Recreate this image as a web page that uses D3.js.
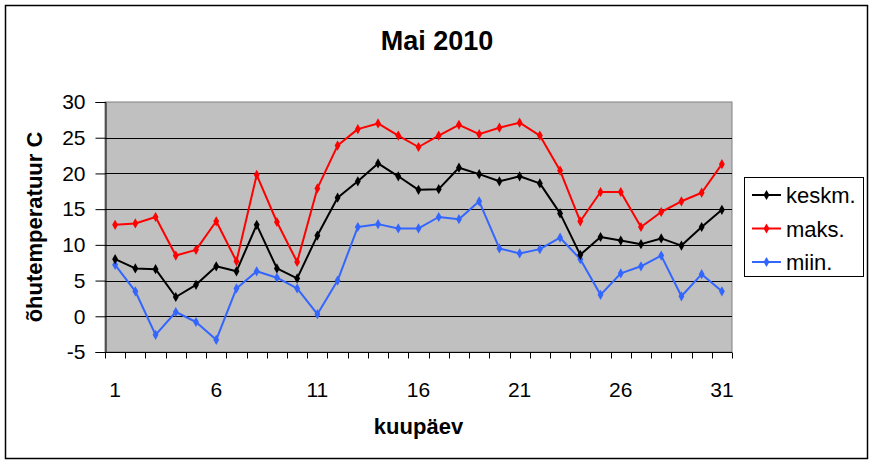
<!DOCTYPE html>
<html>
<head>
<meta charset="utf-8">
<script src="https://cdn.jsdelivr.net/npm/d3@7"></script>
<style>
  body { margin: 0; background: #fff; }
  svg text { font-family: Arial, "Liberation Sans", sans-serif; }
</style>
</head>
<body>
<div class="chart"></div>
<script>
// data
const days = d3.range(1, 32);
const keskm = [8.0, 6.7, 6.6, 2.7, 4.4, 7.0, 6.3, 12.8, 6.7, 5.3, 11.3, 16.6, 18.9, 21.4, 19.6, 17.7, 17.8, 20.8, 19.9, 18.9, 19.6, 18.6, 14.4, 8.6, 11.1, 10.6, 10.1, 10.9, 9.9, 12.5, 14.9];
const maks = [12.8, 13.0, 13.9, 8.5, 9.3, 13.3, 7.7, 19.8, 13.2, 7.6, 17.9, 23.9, 26.2, 27.0, 25.3, 23.7, 25.3, 26.8, 25.5, 26.4, 27.1, 25.3, 20.4, 13.3, 17.4, 17.4, 12.5, 14.6, 16.1, 17.3, 21.3];
const miin = [7.2, 3.5, -2.6, 0.6, -0.8, -3.3, 3.9, 6.3, 5.4, 3.9, 0.3, 5.0, 12.5, 12.9, 12.3, 12.3, 13.9, 13.6, 16.1, 9.5, 8.8, 9.4, 11.0, 8.0, 3.0, 6.0, 7.0, 8.5, 2.8, 5.9, 3.5];
const xTickLabels = [1, 6, 11, 16, 21, 26, 31];
const yTicks = [-5, 0, 5, 10, 15, 20, 25, 30];
const seriesNames = ["keskm.", "maks.", "miin."];
const seriesColors = ["#000000", "#ff0000", "#3366ff"];

const W = 873, H = 464;
const plot = {left: 105, right: 732, top: 102, bottom: 352};

let svg = d3.select(".chart")
  .append("svg")
  .attr("width", W)
  .attr("height", H);

// outer frame
svg.append("rect")
  .attr("x", 5.5).attr("y", 5.5)
  .attr("width", 862).attr("height", 453)
  .attr("fill", "#fff")
  .attr("stroke", "#000")
  .attr("stroke-width", 1.5);

// scales
let x = d3.scaleBand()
  .domain(days)
  .range([plot.left, plot.right]);
let y = d3.scaleLinear()
  .domain([-5, 30])
  .range([plot.bottom, plot.top]);

// plot background
svg.append("rect")
  .attr("x", plot.left).attr("y", plot.top)
  .attr("width", plot.right - plot.left)
  .attr("height", plot.bottom - plot.top)
  .attr("fill", "#c0c0c0")
  .attr("stroke", "#808080")
  .attr("stroke-width", 1);

// gridlines
svg.append("g")
  .selectAll("line")
  .data(yTicks.filter(d => d > -5 && d < 30))
  .join("line")
  .attr("x1", plot.left).attr("x2", plot.right)
  .attr("y1", d => Math.round(y(d)) + 0.5)
  .attr("y2", d => Math.round(y(d)) + 0.5)
  .attr("stroke", "#000")
  .attr("stroke-width", 1);

// y axis
let yAxis = svg.append("g")
  .attr("transform", "translate(" + (plot.left + 0.5) + ",0)")
  .call(d3.axisLeft(y).tickValues(yTicks).tickSize(10).tickPadding(10)
    .tickFormat(d => String(d)));
yAxis.select(".domain").attr("stroke", "#000");
yAxis.selectAll(".tick line").attr("stroke", "#000");
yAxis.selectAll("text")
  .attr("font-size", 21)
  .attr("fill", "#000")
  .style("font-family", "Arial, 'Liberation Sans', sans-serif");

// x axis: ticks between categories
let xAxis = svg.append("g")
  .attr("transform", "translate(0," + (plot.bottom + 0.5) + ")");
xAxis.append("line")
  .attr("x1", plot.left).attr("x2", plot.right)
  .attr("stroke", "#000");
xAxis.selectAll(".tk")
  .data(days.concat([32]))
  .join("line")
  .attr("class", "tk")
  .attr("x1", d => Math.round(d <= 31 ? x(d) : x(31) + x.bandwidth()) + 0.5)
  .attr("x2", d => Math.round(d <= 31 ? x(d) : x(31) + x.bandwidth()) + 0.5)
  .attr("y1", 0).attr("y2", 6)
  .attr("stroke", "#000");
xAxis.selectAll(".lbl")
  .data(xTickLabels)
  .join("text")
  .attr("class", "lbl")
  .attr("x", d => x(d) + x.bandwidth() / 2)
  .attr("y", 44)
  .attr("text-anchor", "middle")
  .attr("font-size", 21)
  .text(d => d);

// lines + markers
let allSeries = [keskm, maks, miin];
let line = d3.line()
  .x((d, i) => x(days[i]) + x.bandwidth() / 2)
  .y(d => y(d));
let diamond = d3.symbol().type(d3.symbolDiamond).size(30);

[2, 1, 0].forEach(k => {
  let g = svg.append("g");
  g.append("path")
    .datum(allSeries[k])
    .attr("fill", "none")
    .attr("stroke", seriesColors[k])
    .attr("stroke-width", 2)
    .attr("stroke-linejoin", "round")
    .attr("d", line);
  g.selectAll("path.m")
    .data(allSeries[k])
    .join("path")
    .attr("class", "m")
    .attr("transform", (d, i) => "translate(" + (x(days[i]) + x.bandwidth() / 2) + "," + y(d) + ")")
    .attr("d", diamond)
    .attr("fill", seriesColors[k]);
});

// title
svg.append("text")
  .attr("x", 437).attr("y", 50)
  .attr("text-anchor", "middle")
  .attr("font-size", 27)
  .attr("font-weight", "bold")
  .text("Mai 2010");

// axis titles
svg.append("text")
  .attr("transform", "translate(42," + ((plot.top + plot.bottom) / 2) + ") rotate(-90)")
  .attr("text-anchor", "middle")
  .attr("font-size", 22)
  .attr("font-weight", "bold")
  .text("õhutemperatuur C");
svg.append("text")
  .attr("x", (plot.left + plot.right) / 2).attr("y", 434)
  .attr("text-anchor", "middle")
  .attr("font-size", 22)
  .attr("font-weight", "bold")
  .text("kuupäev");

// legend
let legend = svg.append("g");
legend.append("rect")
  .attr("x", 744.5).attr("y", 177.5)
  .attr("width", 119).attr("height", 99)
  .attr("fill", "#fff")
  .attr("stroke", "#000");
let items = legend.selectAll("g.item")
  .data(seriesNames)
  .join("g")
  .attr("class", "item")
  .attr("transform", (d, i) => "translate(0," + (195 + i * 33.5) + ")");
items.append("line")
  .attr("x1", 752).attr("x2", 781)
  .attr("stroke", (d, i) => seriesColors[i])
  .attr("stroke-width", 2);
items.append("path")
  .attr("transform", "translate(766.5,0)")
  .attr("d", diamond)
  .attr("fill", (d, i) => seriesColors[i]);
items.append("text")
  .attr("x", 786).attr("y", 8)
  .attr("font-size", 22)
  .text(d => d);
</script>
</body>
</html>
